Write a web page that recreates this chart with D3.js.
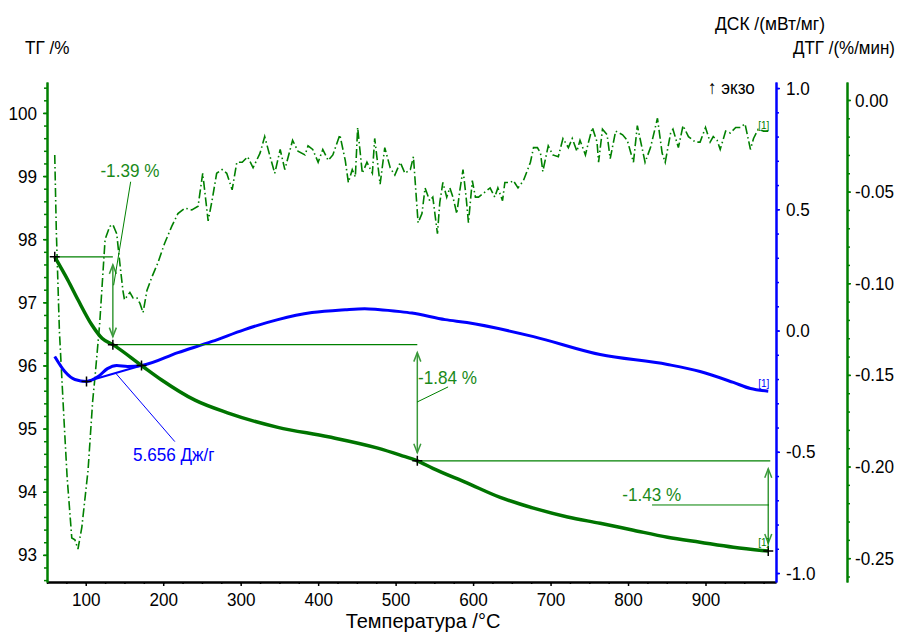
<!DOCTYPE html>
<html>
<head>
<meta charset="utf-8">
<script src="https://cdn.jsdelivr.net/npm/d3@7"></script>
<style>
  body { margin: 0; background: #fff; }
  svg text { font-family: "Liberation Sans", Arial, sans-serif; }
</style>
</head>
<body>
<svg id="chart" width="901" height="632"></svg>
<script>
// TG (mass, %)
const tgTemp = [60, 77, 90, 108, 121, 135, 172, 198, 241, 283, 348, 413, 477, 506, 528, 548, 592, 635, 678, 722, 764, 807, 851, 893, 936, 981];
const tgVal = [97.72, 97.35, 97.04, 96.64, 96.43, 96.33, 96.0, 95.77, 95.45, 95.25, 95.02, 94.87, 94.69, 94.58, 94.49, 94.37, 94.14, 93.91, 93.74, 93.6, 93.5, 93.39, 93.28, 93.2, 93.12, 93.06];

// DSC (mW/mg)
const dscTemp = [60, 73, 86, 101, 116, 128, 140, 154, 172, 219, 263, 305, 348, 392, 435, 460, 477, 506, 521, 564, 592, 678, 764, 851, 893, 936, 958, 981];
const dscVal = [-0.107, -0.169, -0.202, -0.21, -0.19, -0.157, -0.144, -0.148, -0.144, -0.091, -0.045, 0.004, 0.045, 0.074, 0.086, 0.09, 0.087, 0.078, 0.072, 0.045, 0.033, -0.025, -0.099, -0.14, -0.169, -0.214, -0.239, -0.25];

// DTG (%/min)
const dtgTemp = [60, 62, 66, 72, 76, 82, 86, 90, 95, 103, 109, 112, 118, 125, 131, 135, 140, 144, 148, 150,
  157, 161, 166, 170, 174, 179, 185, 193, 202, 211, 219, 228, 237, 245, 251, 258, 263, 269, 276, 282,
  289, 295, 302, 309, 316, 325, 331, 338, 344, 351, 357, 367, 374, 383, 387, 393, 400, 406, 413, 419,
  428, 435, 439, 444, 448, 451, 457, 463, 470, 473, 480, 486, 493, 499, 506, 512, 519, 523, 526, 529,
  534, 538, 544, 548, 554, 557, 561, 566, 570, 574, 579, 583, 587, 591, 594, 599, 603, 607, 613, 622,
  628, 632, 638, 641, 648, 652, 658, 665, 674, 678, 683, 687, 690, 697, 703, 710, 716, 723, 728, 734,
  738, 745, 749, 754, 760, 762, 767, 773, 777, 784, 793, 799, 803, 807, 812, 818, 822, 829, 838, 844,
  848, 855, 858, 865, 871, 878, 887, 893, 900, 906, 910, 915, 919, 926, 932, 939, 945, 951, 958, 962,
  968, 975, 981];
const dtgVal = [-0.030, -0.071, -0.126, -0.175, -0.206, -0.239, -0.240, -0.245, -0.233, -0.202, -0.164, -0.151, -0.122, -0.076, -0.069, -0.068, -0.073, -0.089, -0.104, -0.109,
  -0.105, -0.108, -0.108, -0.111, -0.116, -0.104, -0.097, -0.089, -0.078, -0.069, -0.062, -0.059, -0.060, -0.058, -0.040, -0.066, -0.055, -0.040, -0.038, -0.040,
  -0.049, -0.034, -0.034, -0.031, -0.037, -0.029, -0.020, -0.031, -0.040, -0.027, -0.038, -0.022, -0.028, -0.030, -0.025, -0.027, -0.034, -0.027, -0.033, -0.030,
  -0.019, -0.033, -0.045, -0.038, -0.042, -0.015, -0.040, -0.034, -0.040, -0.021, -0.046, -0.026, -0.037, -0.041, -0.034, -0.040, -0.038, -0.031, -0.049, -0.067,
  -0.062, -0.048, -0.055, -0.053, -0.073, -0.056, -0.045, -0.053, -0.048, -0.053, -0.062, -0.049, -0.038, -0.053, -0.067, -0.044, -0.053, -0.053, -0.051, -0.048,
  -0.053, -0.048, -0.055, -0.045, -0.045, -0.044, -0.048, -0.044, -0.034, -0.026, -0.026, -0.029, -0.039, -0.025, -0.030, -0.031, -0.021, -0.026, -0.021, -0.028,
  -0.022, -0.030, -0.023, -0.015, -0.023, -0.034, -0.016, -0.019, -0.032, -0.017, -0.019, -0.022, -0.028, -0.034, -0.014, -0.026, -0.034, -0.026, -0.010, -0.029,
  -0.034, -0.018, -0.016, -0.026, -0.014, -0.020, -0.023, -0.023, -0.015, -0.023, -0.020, -0.022, -0.027, -0.017, -0.018, -0.015, -0.015, -0.013, -0.027, -0.021,
  -0.016, -0.017, -0.017];

// mass-loss steps: temperatures of the markers and the labels
const stepTemp = [60, 135, 528, 981];
const stepLabels = ["-1.39 %", "-1.84 %", "-1.43 %"];
// DSC peak integration limits
const peakTemp = [101, 172];
const peakLabel = "5.656 Дж/г";

const xTicks = [100, 200, 300, 400, 500, 600, 700, 800, 900];
const tgTicks = [93, 94, 95, 96, 97, 98, 99, 100];
const dscTicks = [-1.0, -0.5, 0.0, 0.5, 1.0];
const dtgTicks = [-0.25, -0.2, -0.15, -0.1, -0.05, 0.0];

const GREEN = "#008000";
const TGCOL = "#007400";
const BLUE = "#0000ff";
const FS = 19;

const svg = d3.select("#chart");
const plotTop = 82, plotBottom = 582, plotLeft = 47, plotRight = 776, dtgAxisX = 847;

const x = d3.scaleLinear().domain([50, 991]).range([plotLeft, plotRight]);
const yTG = d3.scaleLinear().domain([92.57, 100.49]).range([plotBottom, plotTop]);
const yDSC = d3.scaleLinear().domain([-1.037, 1.025]).range([plotBottom, plotTop]);
const yDTG = d3.scaleLinear().domain([-0.263, 0.0098]).range([plotBottom, plotTop]);

const lerp = (arrX, arrY, t) => {
  const i = d3.bisectLeft(arrX, t);
  if (i <= 0) return arrY[0];
  if (i >= arrX.length) return arrY[arrY.length - 1];
  const f = (t - arrX[i - 1]) / (arrX[i] - arrX[i - 1]);
  return arrY[i - 1] + f * (arrY[i] - arrY[i - 1]);
};

function styleAxis(g, color, fontColor) {
  g.select(".domain").attr("stroke", color).attr("stroke-width", 2);
  g.selectAll(".tick line").attr("stroke", color).attr("stroke-width", 1.5);
  g.selectAll(".tick text").attr("fill", fontColor).attr("font-size", FS).attr("class", "squeeze");
  g.attr("font-family", null);
}

// X axis
const xMinor = d3.range(50, 991, 25);
svg.append("g").attr("transform", `translate(0,${plotBottom})`)
  .call(d3.axisBottom(x).tickValues(xMinor).tickSize(2).tickFormat("").tickSizeOuter(0))
  .call((g) => styleAxis(g, "#000", "#000"));
svg.append("g").attr("transform", `translate(0,${plotBottom})`)
  .call(d3.axisBottom(x).tickValues(xTicks).tickSize(4).tickPadding(7).tickSizeOuter(0))
  .call((g) => styleAxis(g, "#000", "#000"));

// TG axis (left)
const tgMinor = d3.range(0, 40).map((i) => +(92.6 + i * 0.2).toFixed(1));
svg.append("g").attr("transform", `translate(${plotLeft},0)`)
  .call(d3.axisLeft(yTG).tickValues(tgMinor).tickSize(3).tickFormat("").tickSizeOuter(0))
  .call((g) => styleAxis(g, GREEN, "#000"));
svg.append("g").attr("transform", `translate(${plotLeft},0)`)
  .call(d3.axisLeft(yTG).tickValues(tgTicks).tickSize(4).tickPadding(6).tickSizeOuter(0))
  .call((g) => styleAxis(g, GREEN, "#000"));

// DSC axis
const dscMinor = d3.range(-10, 11).map((i) => i / 10);
svg.append("g").attr("transform", `translate(${plotRight},0)`)
  .call(d3.axisRight(yDSC).tickValues(dscMinor).tickSize(3).tickFormat("").tickSizeOuter(0))
  .call((g) => styleAxis(g, BLUE, "#000"));
svg.append("g").attr("transform", `translate(${plotRight},0)`)
  .call(d3.axisRight(yDSC).tickValues(dscTicks).tickSize(4).tickPadding(6).tickFormat((d) => d.toFixed(1)).tickSizeOuter(0))
  .call((g) => styleAxis(g, BLUE, "#000"));

// DTG axis
const dtgMinor = d3.range(-26, 1).map((i) => i / 100);
svg.append("g").attr("transform", `translate(${dtgAxisX},0)`)
  .call(d3.axisRight(yDTG).tickValues(dtgMinor).tickSize(3).tickFormat("").tickSizeOuter(0))
  .call((g) => styleAxis(g, GREEN, "#000"));
svg.append("g").attr("transform", `translate(${dtgAxisX},0)`)
  .call(d3.axisRight(yDTG).tickValues(dtgTicks).tickSize(4).tickPadding(4).tickFormat((d) => d.toFixed(2)).tickSizeOuter(0))
  .call((g) => styleAxis(g, GREEN, "#000"));

// axis titles
const title = (txt, tx, ty, anchor) =>
  svg.append("text").attr("class", "squeeze").attr("x", tx).attr("y", ty).attr("text-anchor", anchor || "start")
    .attr("font-size", FS).attr("fill", "#000").text(txt);
title("ТГ /%", 25, 54);
title("ДСК /(мВт/мг)", 715, 30).attr("class", "fixed").attr("data-w", 110);
title("ДТГ /(%/мин)", 793, 54).attr("class", "fixed").attr("data-w", 102).attr("font-size", 18);
title("↑ экзо", 708, 94);
title("Температура /°C", 423, 628, "middle").attr("class", null).attr("font-size", 20);

// curves
const dtgData = dtgTemp.map((t, i) => [t, dtgVal[i]]);
const dscData = dscTemp.map((t, i) => [t, dscVal[i]]);
const tgData = tgTemp.map((t, i) => [t, tgVal[i]]);

svg.append("path").datum(dtgData)
  .attr("fill", "none").attr("stroke", GREEN).attr("stroke-width", 1.6)
  .attr("stroke-dasharray", "9,3,1.5,3")
  .attr("d", d3.line().x((d) => x(d[0])).y((d) => yDTG(d[1])));

svg.append("path").datum(dscData)
  .attr("fill", "none").attr("stroke", BLUE).attr("stroke-width", 3)
  .attr("d", d3.line().curve(d3.curveMonotoneX).x((d) => x(d[0])).y((d) => yDSC(d[1])));

svg.append("path").datum(tgData)
  .attr("fill", "none").attr("stroke", TGCOL).attr("stroke-width", 3.5)
  .attr("d", d3.line().curve(d3.curveMonotoneX).x((d) => x(d[0])).y((d) => yTG(d[1])));

// DSC peak baseline
const p0 = [x(peakTemp[0]), yDSC(lerp(dscTemp, dscVal, peakTemp[0]))];
const p1 = [x(peakTemp[1]), yDSC(lerp(dscTemp, dscVal, peakTemp[1]))];
svg.append("line").attr("x1", p0[0]).attr("y1", p0[1]).attr("x2", p1[0]).attr("y2", p1[1])
  .attr("stroke", BLUE).attr("stroke-width", 2);
svg.append("line")
  .attr("x1", x(139)).attr("y1", yDSC(-0.177)).attr("x2", x(215)).attr("y2", yDSC(-0.458))
  .attr("stroke", BLUE).attr("stroke-width", 1);
svg.append("text").attr("class", "squeeze").attr("x", x(161)).attr("y", yDSC(-0.536)).attr("font-size", FS)
  .attr("fill", BLUE).text(peakLabel);

// step annotations
const stepPts = stepTemp.map((t) => [x(t), yTG(lerp(tgTemp, tgVal, t))]);
const ann = svg.append("g");
function arrowHead(xp, yp, dir) {
  ann.append("path")
    .attr("d", `M${xp - 3.5},${yp - dir * 9}L${xp},${yp}L${xp + 3.5},${yp - dir * 9}`)
    .attr("fill", "none").attr("stroke", "#3a9a3a").attr("stroke-width", 1.5);
}
for (let i = 0; i < 3; i++) {
  const a = stepPts[i], b = stepPts[i + 1];
  // horizontal level line from the step start to the arrow
  ann.append("line").attr("x1", a[0]).attr("y1", a[1]).attr("x2", b[0] + (i === 2 ? 2 : 0)).attr("y2", a[1])
    .attr("stroke", GREEN).attr("stroke-width", 1.3);
  // vertical double arrow
  const ya = a[1] + 8, yb = b[1] - 8;
  ann.append("line").attr("x1", b[0]).attr("y1", ya).attr("x2", b[0]).attr("y2", yb)
    .attr("stroke", "#3a9a3a").attr("stroke-width", 1.5);
  arrowHead(b[0], ya, -1);
  arrowHead(b[0], yb, 1);
}

// labels and leaders
const lbl = [
  { t: 157, v: 98.99, anchor: "middle", l: [[158, 98.91], [136, 97.27]] },
  { t: 529, v: 95.71, anchor: "start", l: [[527.6, 95.42], [567.7, 95.66]] },
  { t: 792.5, v: 93.85, anchor: "start", l: [[831, 93.79], [982, 93.79]] },
];
lbl.forEach((d, i) => {
  ann.append("line")
    .attr("x1", x(d.l[0][0])).attr("y1", yTG(d.l[0][1]))
    .attr("x2", x(d.l[1][0])).attr("y2", yTG(d.l[1][1]))
    .attr("stroke", GREEN).attr("stroke-width", 1);
  ann.append("text").attr("class", "squeeze").attr("x", x(d.t)).attr("y", yTG(d.v)).attr("text-anchor", d.anchor)
    .attr("font-size", FS).attr("fill", "#1a8a1a").text(stepLabels[i]);
});

// markers
const plus = (px, py) => {
  svg.append("path").attr("d", `M${px - 5},${py}H${px + 5}M${px},${py - 5}V${py + 5}`)
    .attr("stroke", "#000").attr("stroke-width", 1.5);
};
stepPts.forEach((p) => plus(p[0], p[1]));
plus(p0[0], p0[1]);
plus(p1[0], p1[1]);

// curve tags
const tag = (px, py, col) => svg.append("text").attr("x", px).attr("y", py).attr("text-anchor", "end")
  .attr("font-size", 10).attr("fill", col).text("[1]");
tag(x(981) + 1, yDTG(-0.017) - 2, GREEN);
tag(x(981) + 1, yDSC(-0.25) - 4, BLUE);
tag(x(981) + 1, yTG(93.06) - 5, GREEN);

// the original font is narrower than Liberation Sans: compress glyphs horizontally
svg.selectAll("text.squeeze").each(function () {
  const w = this.getComputedTextLength();
  d3.select(this).attr("textLength", w * 0.9).attr("lengthAdjust", "spacingAndGlyphs");
});
svg.selectAll("text.fixed").each(function () {
  d3.select(this).attr("textLength", +this.getAttribute("data-w")).attr("lengthAdjust", "spacingAndGlyphs");
});
</script>
</body>
</html>
